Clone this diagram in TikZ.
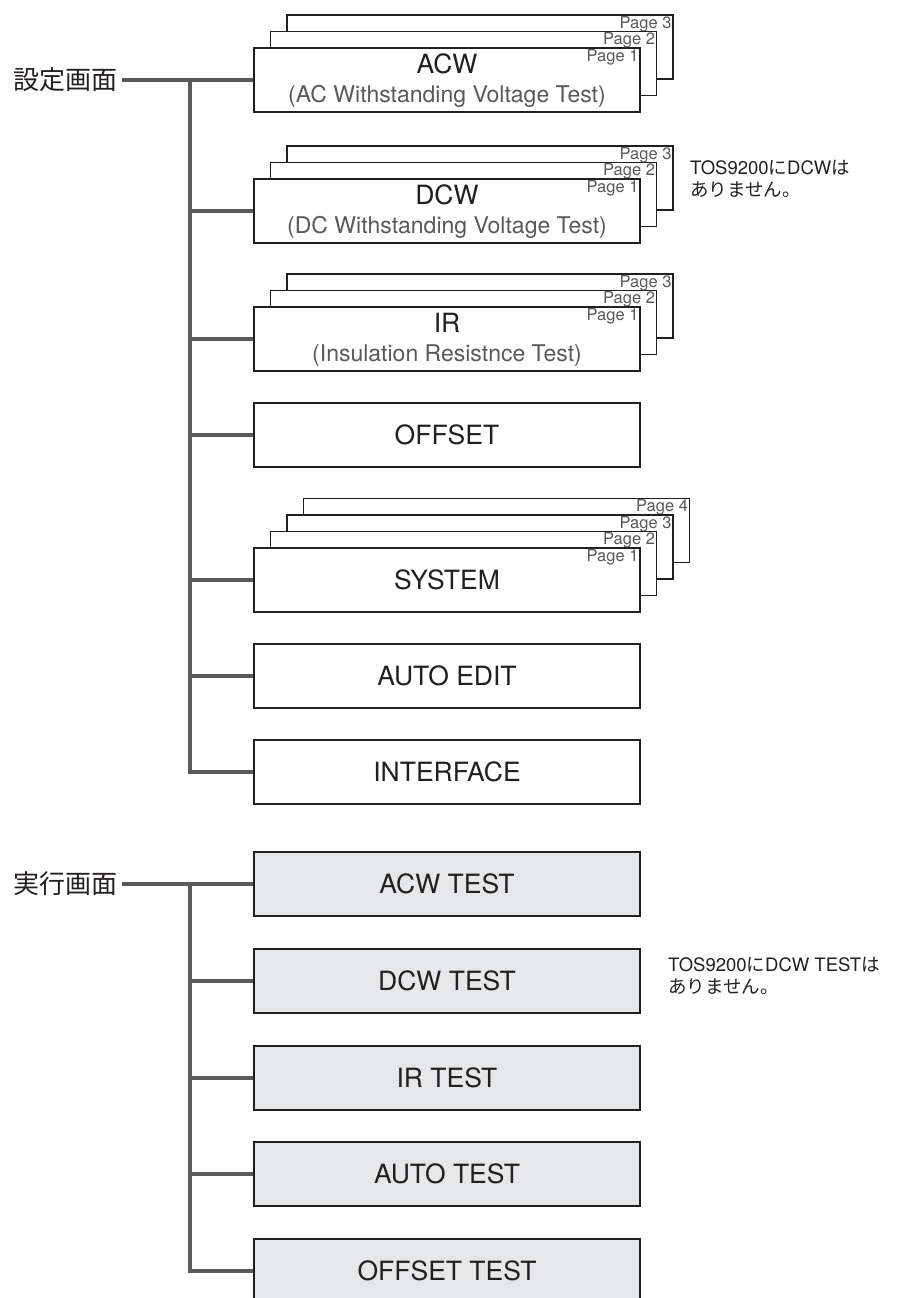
\documentclass[tikz,border=0pt]{standalone}
\usepackage{fontspec}
\setmainfont{TeX Gyre Heros}
\newfontfamily\jp{Noto Sans CJK JP}
\usepackage{tikz}
\usetikzlibrary{positioning}
\definecolor{boxline}{RGB}{35,31,32}
\definecolor{connc}{RGB}{90,90,92}
\definecolor{testfill}{RGB}{230,231,232}
\definecolor{subtxt}{RGB}{88,89,91}
\newcommand{\setfs}[1]{\fontsize{#1}{#1}\selectfont}

\begin{document}
\begin{tikzpicture}[x=1pt,y=-1pt,
  scr/.style={draw=boxline,line width=1.3pt,fill=white,minimum width=386pt,
    minimum height=64pt,inner sep=0pt,font=\setfs{26.5},text=boxline},
  tst/.style={scr,fill=testfill},
  pg/.style={font=\setfs{16.5},text=subtxt,inner xsep=2pt,inner ysep=1.5pt,anchor=north east},
  ttl/.style={font=\setfs{26.5},text=boxline,anchor=base},
  sub/.style={font=\setfs{23},text=subtxt,anchor=base},
  hdr/.style={font=\jp\setfs{26},text=boxline,anchor=east,inner sep=4pt},
  note/.style={font=\fontsize{18.5}{22}\selectfont,text=boxline,align=left,
    anchor=north west,inner sep=0pt},
  conn/.style={draw=connc,line width=3.6pt}]
  \path[use as bounding box,clip](0,0)rectangle(906,1298);
  %% setting screens
  \node[hdr](setH)at(122,80){設定画面};
  \node[scr](acw3)at(480,47){};\node[pg](acw3p)at(acw3.north east){Page 3};
  \node[scr](acw2)at(463.5,63.5){};\node[pg](acw2p)at(acw2.north east){Page 2};
  \node[scr](acw)at(447,80){};\node[pg](acwp)at(acw.north east){Page 1};
  \node[ttl](acwT)at([yshift=-26pt]acw.north){ACW};
  \node[sub](acwS)at([yshift=-55pt]acw.north){(AC Withstanding Voltage Test)};
  \node[scr](dcw3)at(480,178){};\node[pg](dcw3p)at(dcw3.north east){Page 3};
  \node[scr](dcw2)at(463.5,194.5){};\node[pg](dcw2p)at(dcw2.north east){Page 2};
  \node[scr](dcw)at(447,211){};\node[pg](dcwp)at(dcw.north east){Page 1};
  \node[ttl](dcwT)at([yshift=-26pt]dcw.north){DCW};
  \node[sub](dcwS)at([yshift=-55pt]dcw.north){(DC Withstanding Voltage Test)};
  \node[note](dcwN)at(690,160){TOS9200{\jp に}DCW{\jp は}\\{\jp ありません。}};
  \node[scr](ir3)at(480,306){};\node[pg](ir3p)at(ir3.north east){Page 3};
  \node[scr](ir2)at(463.5,322.5){};\node[pg](ir2p)at(ir2.north east){Page 2};
  \node[scr](ir)at(447,339){};\node[pg](irp)at(ir.north east){Page 1};
  \node[ttl](irT)at([yshift=-26pt]ir.north){IR};
  \node[sub](irS)at([yshift=-55pt]ir.north){(Insulation Resistnce Test)};
  \node[scr](offs)at(447,435){OFFSET};
  \node[scr](sys4)at(496.5,530.5){};\node[pg](sys4p)at(sys4.north east){Page 4};
  \node[scr](sys3)at(480,547){};\node[pg](sys3p)at(sys3.north east){Page 3};
  \node[scr](sys2)at(463.5,563.5){};\node[pg](sys2p)at(sys2.north east){Page 2};
  \node[scr](sys)at(447,580){SYSTEM};\node[pg](sysp)at(sys.north east){Page 1};
  \node[scr](aedit)at(447,676){AUTO EDIT};
  \node[scr](intf)at(447,772){INTERFACE};
  \coordinate(sT)at(190,80);
  \draw[conn](setH.east)--(acw.west);\draw[conn](sT)|-(intf.west);
  \draw[conn](sT|-dcw.west)--(dcw.west);\draw[conn](sT|-ir.west)--(ir.west);
  \draw[conn](sT|-offs.west)--(offs.west);\draw[conn](sT|-sys.west)--(sys.west);
  \draw[conn](sT|-aedit.west)--(aedit.west);
  %% run screens
  \node[hdr](exeH)at(122,884){実行画面};
  \node[tst](acwt)at(447,884){ACW TEST};
  \node[tst](dcwt)at(447,981){DCW TEST};
  \node[note](dcwtN)at(668,957){TOS9200{\jp に}DCW TEST{\jp は}\\{\jp ありません。}};
  \node[tst](irt)at(447,1078){IR TEST};
  \node[tst](autot)at(447,1174){AUTO TEST};
  \node[tst](offt)at(447,1271){OFFSET TEST};
  \coordinate(xT)at(190,884);
  \draw[conn](exeH.east)--(acwt.west);\draw[conn](xT)|-(offt.west);
  \draw[conn](xT|-dcwt.west)--(dcwt.west);\draw[conn](xT|-irt.west)--(irt.west);
  \draw[conn](xT|-autot.west)--(autot.west);
\end{tikzpicture}
\end{document}
